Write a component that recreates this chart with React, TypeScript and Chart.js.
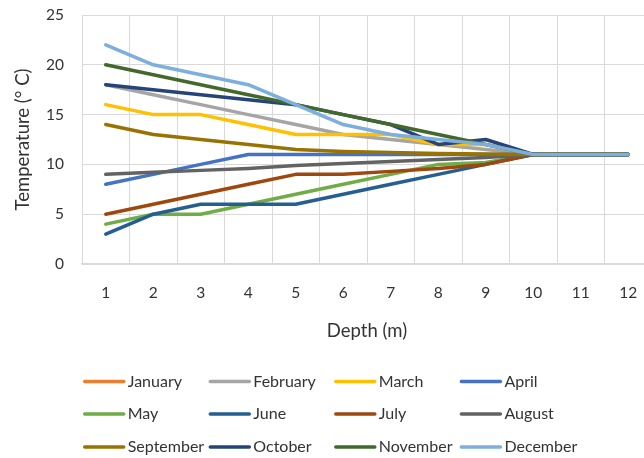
import React, { useEffect, useRef } from "react";
import { Chart, registerables } from "chart.js";

Chart.register(...registerables);

const depths = ["1", "2", "3", "4", "5", "6", "7", "8", "9", "10", "11", "12"];
const months = ["January", "February", "March", "April", "May", "June", "July", "August", "September", "October", "November", "December"];
const colors = ["#ED7D31", "#A5A5A5", "#FFC000", "#4472C4", "#70AD47", "#255E91", "#9E480E", "#636363", "#997300", "#264478", "#43682B", "#7CAFDD"];

const jan: (number | null)[] = [null, null, null, null, null, null, null, null, null, null, null, null];
const feb = [18, 17, 16, 15, 14, 13, 12.5, 12, 11.5, 11, 11, 11];
const mar = [16, 15, 15, 14, 13, 13, 13, 12, 12, 11, 11, 11];
const apr = [8, 9, 10, 11, 11, 11, 11, 11, 11, 11, 11, 11];
const may = [4, 5, 5, 6, 7, 8, 9, 10, 10.2, 11, 11, 11];
const jun = [3, 5, 6, 6, 6, 7, 8, 9, 10, 11, 11, 11];
const jul = [5, 6, 7, 8, 9, 9, 9.3, 9.6, 10, 11, 11, 11];
const aug = [9, 9.2, 9.4, 9.6, 9.9, 10.1, 10.3, 10.5, 10.7, 11, 11, 11];
const sep = [14, 13, 12.5, 12, 11.5, 11.3, 11.2, 11.1, 11.05, 11, 11, 11];
const oct = [18, 17.5, 17, 16.5, 16, 15, 14, 12, 12.5, 11, 11, 11];
const nov = [20, 19, 18, 17, 16, 15, 14, 13, 12, 11, 11, 11];
const dec = [22, 20, 19, 18, 16, 14, 13, 12.5, 12, 11, 11, 11];

const series = [jan, feb, mar, apr, may, jun, jul, aug, sep, oct, nov, dec];

const FONT = "Lato";
const TEXT = "#333333";
const GRID = "#D9D9D9";

const legendPlugin = {
  id: "gridLegend",
  afterDraw(chart: any) {
    const ctx = chart.ctx;
    const ds = chart.data.datasets;
    const colX = [84.7, 210.3, 335.8, 461.4];
    const rowY = [381.5, 414, 447];
    ctx.save();
    ctx.font = `16px ${FONT}`;
    ctx.textBaseline = "middle";
    ctx.textAlign = "left";
    ds.forEach((d: any, i: number) => {
      const x = colX[i % 4];
      const y = rowY[Math.floor(i / 4)];
      ctx.strokeStyle = d.borderColor;
      ctx.lineWidth = 3.5;
      ctx.lineCap = "round";
      ctx.beginPath();
      ctx.moveTo(x, y);
      ctx.lineTo(x + 39, y);
      ctx.stroke();
      ctx.fillStyle = TEXT;
      ctx.fillText(d.label, x + 43, y);
    });
    ctx.restore();
  },
};

export default function App() {
  const ref = useRef<HTMLCanvasElement>(null);
  useEffect(() => {
    if (!ref.current) return;
    const chart = new Chart(ref.current, {
      type: "line",
      data: {
        labels: depths,
        datasets: series.map((s, i) => ({
          label: months[i],
          data: s,
          borderColor: colors[i],
          backgroundColor: colors[i],
          borderWidth: 3.5,
          pointRadius: 0,
          tension: 0,
          borderCapStyle: "round" as const,
          borderJoinStyle: "round" as const,
          order: -i,
        })),
      },
      options: {
        responsive: false,
        animation: false,
        layout: { padding: { top: 15, right: 0, bottom: 94, left: 0 } },
        plugins: {
          legend: { display: false },
          tooltip: { enabled: false },
        },
        scales: {
          x: {
            offset: true,
            grid: { offset: true, color: GRID, lineWidth: 1, drawTicks: false },
            border: { display: true, color: GRID, width: 1.5 },
            ticks: { color: TEXT, font: { family: FONT, size: 15.5 }, padding: 20, maxRotation: 0 },
            title: {
              display: true,
              text: "Depth (m)",
              color: TEXT,
              font: { family: FONT, size: 18.5 },
              padding: { top: 0, bottom: 22 },
            },
            afterFit: (s: any) => {
              s.height = 100;
              s.paddingLeft = 0;
              s.paddingRight = 0;
            },
          },
          y: {
            min: 0,
            max: 25,
            ticks: { stepSize: 5, color: TEXT, font: { family: FONT, size: 15.5 }, padding: 18 },
            grid: { color: GRID, lineWidth: 1, drawTicks: false },
            border: { display: false },
            title: {
              display: true,
              text: "Temperature (° C)",
              color: TEXT,
              font: { family: FONT, size: 18.5 },
              padding: { top: 12, bottom: 0 },
            },
            afterFit: (s: any) => {
              s.width = 82;
              s.paddingTop = 0;
              s.paddingBottom = 0;
            },
          },
        },
      },
      plugins: [legendPlugin],
    });
    return () => chart.destroy();
  }, []);
  return (
    <div style={{ position: "absolute", left: 0, top: 0, width: 644, height: 458, overflow: "hidden", background: "#fff" }}>
      <canvas ref={ref} width={652} height={458} style={{ width: 652, height: 458, display: "block" }} />
    </div>
  );
}
